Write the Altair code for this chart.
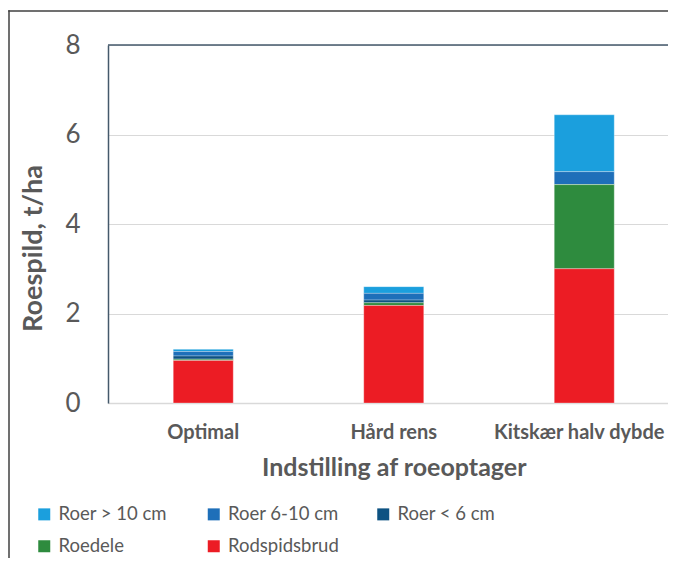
import altair as alt
import pandas as pd

categories = ["Optimal", "Hård rens", "Kitskær halv dybde"]
series = ["Roer > 10 cm", "Roer 6-10 cm", "Roer < 6 cm", "Roedele", "Rodspidsbrud"]
colors = ["#1B9FDD", "#1E6FB9", "#0D5282", "#2E8B3E", "#EC1C24"]
# stack order: 0 = bottom
stack_order = [4, 3, 2, 1, 0]

roer_gt10 = [0.05, 0.15, 1.27]
roer_6_10 = [0.10, 0.15, 0.29]
roer_lt6 = [0.07, 0.06, 0.0]
roedele = [0.03, 0.06, 1.88]
rodspidsbrud = [0.95, 2.18, 3.00]

values = [roer_gt10, roer_6_10, roer_lt6, roedele, rodspidsbrud]
rows = []
for s, vals, o in zip(series, values, stack_order):
    for c, v in zip(categories, vals):
        rows.append({"cat": c, "serie": s, "value": v, "ord": o})
df = pd.DataFrame(rows)

FONT = "Lato"
TXT = "#595959"
W, H = 560, 358
XRANGE = 571.5  # plot area continues past the visible right edge

label_shift = {"condition": {"test": f"datum.value == '{categories[-1]}'", "value": -5}, "value": 0}

bars = alt.Chart(df).mark_bar(stroke="white", strokeWidth=0.5, strokeOpacity=0.6).encode(
    x=alt.X("cat:N", sort=categories,
            scale=alt.Scale(range=[0, XRANGE], paddingInner=0.685, paddingOuter=0.3425),
            axis=alt.Axis(title="Indstilling af roeoptager", labelAngle=0,
                          labelFont=FONT, labelFontSize=20, labelFontWeight="bold",
                          labelColor=TXT, labelPadding=19, ticks=False,
                          labelOffset=label_shift,
                          domainColor="#D9D9D9", domainWidth=1.5,
                          titleFont=FONT, titleFontSize=25, titleFontWeight="bold",
                          titleColor=TXT, titlePadding=13, labelLimit=300)),
    y=alt.Y("value:Q", stack="zero",
            scale=alt.Scale(domain=[0, 8]),
            axis=alt.Axis(title="Roespild, t/ha", values=[0, 2, 4, 6, 8],
                          labelFont=FONT, labelFontSize=26, labelColor=TXT,
                          labelPadding=28, ticks=False,
                          domainColor="#44596B", domainWidth=1.5,
                          gridColor="#D9D9D9", gridWidth=1.2,
                          titleFont=FONT, titleFontSize=27, titleFontWeight="bold",
                          titleColor=TXT, titleX=-75, titleY=203,
                          titleAlign="center", titleBaseline="middle", titleAngle=270)),
    color=alt.Color("serie:N", sort=series,
                    scale=alt.Scale(domain=series, range=colors),
                    legend=alt.Legend(title=None, orient="none", legendX=-73, legendY=460,
                                      direction="horizontal", columns=3, gridAlign="all",
                                      columnPadding=34.5, rowPadding=13,
                                      symbolType="square", symbolSize=144,
                                      symbolStrokeWidth=0, labelOffset=5,
                                      labelFont=FONT, labelFontSize=18.5, labelColor=TXT,
                                      labelLimit=300)),
    order=alt.Order("ord:Q"),
)

frame_df = pd.DataFrame({"k": [1]})
top_line = alt.Chart(frame_df).mark_rule(color="#44596B", strokeWidth=1.5).encode(
    y=alt.datum(8), x=alt.value(0), x2=alt.value(W + 20)
)
outer_top = alt.Chart(frame_df).mark_rule(color="#404040", strokeWidth=1.5).encode(
    x=alt.value(-99.75), x2=alt.value(W + 20), y=alt.value(-34)
)
outer_left = alt.Chart(frame_df).mark_rule(color="#404040", strokeWidth=1.5).encode(
    x=alt.value(-99), y=alt.value(-34.75), y2=alt.value(H + 250)
)

chart = alt.layer(bars, top_line, outer_top, outer_left).properties(
    width=W, height=H,
    autosize=alt.AutoSizeParams(type="none"),
    padding={"left": 100, "top": 37, "right": 0, "bottom": 155},
).configure_view(stroke=None).configure(background="white")

chart.save("out.html", embed_options={"renderer": "svg", "actions": False})
